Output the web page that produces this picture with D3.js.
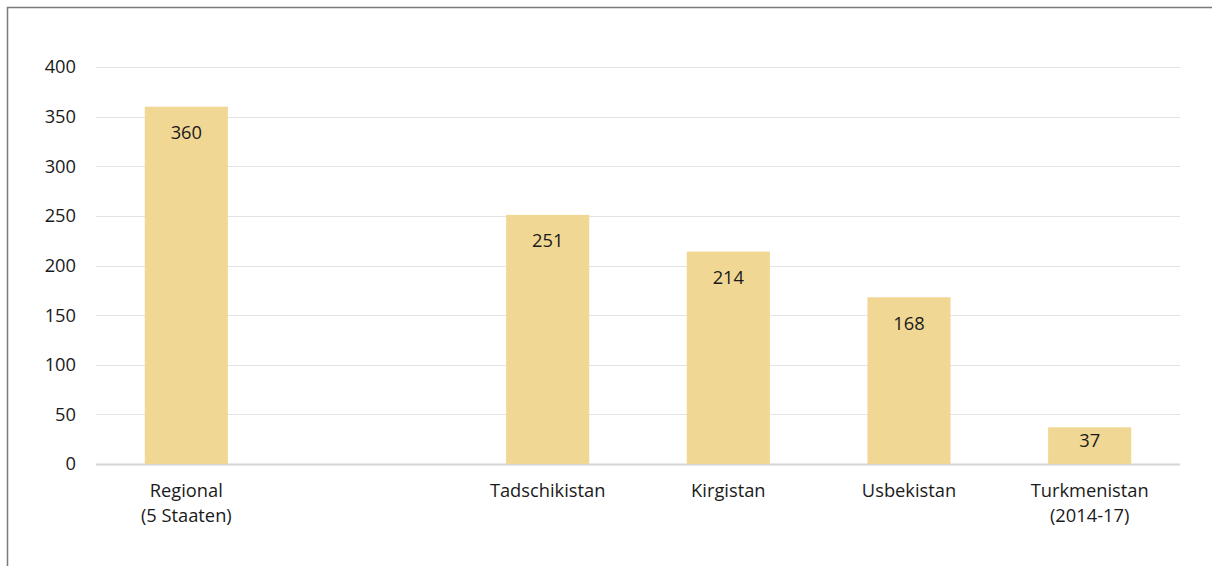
<!DOCTYPE html>
<html lang="de">
<head>
<meta charset="utf-8">
<title>Chart</title>
<style>
  html, body { margin: 0; padding: 0; background: #fff; }
  text { font-family: "Open Sans", "Noto Sans", sans-serif; fill: #1a1a1a; }
</style>
</head>
<body>
<div id="chart"></div>
<script src="https://cdn.jsdelivr.net/npm/d3@7"></script>
<script>
var categories = ["Regional\n(5 Staaten)", "", "Tadschikistan", "Kirgistan", "Usbekistan", "Turkmenistan\n(2014-17)"];
var values = [360, null, 251, 214, 168, 37];
var yTicks = [0, 50, 100, 150, 200, 250, 300, 350, 400];

var width = 1212, height = 566;
var margin = {top: 67, right: 32, bottom: 102, left: 96};
var fs = 18.3;

var svg = d3.select("#chart").append("svg")
    .attr("width", width)
    .attr("height", height);

// frame (top + left edge)
svg.append("path")
    .attr("d", "M7.5," + height + "V7.5H" + width)
    .attr("fill", "none")
    .attr("stroke", "#7a7a7a")
    .attr("stroke-width", 1.5);

var x = d3.scaleBand()
    .domain(d3.range(categories.length))
    .range([margin.left, width - margin.right])
    .paddingInner(0.54)
    .paddingOuter(0.27);

var y = d3.scaleLinear()
    .domain([0, 400])
    .range([height - margin.bottom, margin.top]);

// grid
svg.append("g")
  .selectAll("line")
  .data(yTicks)
  .enter().append("line")
    .attr("x1", margin.left)
    .attr("x2", width - margin.right)
    .attr("y1", function(d) { return Math.round(y(d)) + 0.5; })
    .attr("y2", function(d) { return Math.round(y(d)) + 0.5; })
    .attr("stroke", function(d) { return d === 0 ? "#d4d4d4" : "#e3e3e3"; })
    .attr("stroke-width", function(d) { return d === 0 ? 2 : 1; });

// y labels
svg.append("g")
  .selectAll("text")
  .data(yTicks)
  .enter().append("text")
    .attr("x", 76)
    .attr("y", function(d) { return y(d); })
    .attr("dy", "0.35em")
    .attr("text-anchor", "end")
    .attr("font-size", fs)
    .text(function(d) { return d; });

var data = values.map(function(v, i) { return {i: i, v: v}; }).filter(function(d) { return d.v != null; });

// bars
svg.append("g")
  .selectAll("rect")
  .data(data)
  .enter().append("rect")
    .attr("x", function(d) { return x(d.i); })
    .attr("width", x.bandwidth())
    .attr("y", function(d) { return y(d.v); })
    .attr("height", function(d) { return y(0) - y(d.v); })
    .attr("fill", "#f0d794");

// value labels
svg.append("g")
  .selectAll("text")
  .data(data)
  .enter().append("text")
    .attr("x", function(d) { return x(d.i) + x.bandwidth() / 2; })
    .attr("y", function(d) {
      var h = y(0) - y(d.v);
      return y(d.v) + Math.min(26, h * 0.35);
    })
    .attr("dy", "0.35em")
    .attr("text-anchor", "middle")
    .attr("font-size", fs)
    .text(function(d) { return d.v; });

// category labels
var cat = svg.append("g")
  .selectAll("text")
  .data(categories)
  .enter().append("text")
    .attr("x", function(d, i) { return x(i) + x.bandwidth() / 2; })
    .attr("y", 491)
    .attr("text-anchor", "middle")
    .attr("font-size", fs);

cat.each(function(d) {
  var t = d3.select(this);
  var xx = t.attr("x");
  d.split("\n").forEach(function(line, k) {
    t.append("tspan")
      .attr("x", xx)
      .attr("dy", k === 0 ? "0.35em" : 25)
      .text(line);
  });
});
</script>
</body>
</html>
